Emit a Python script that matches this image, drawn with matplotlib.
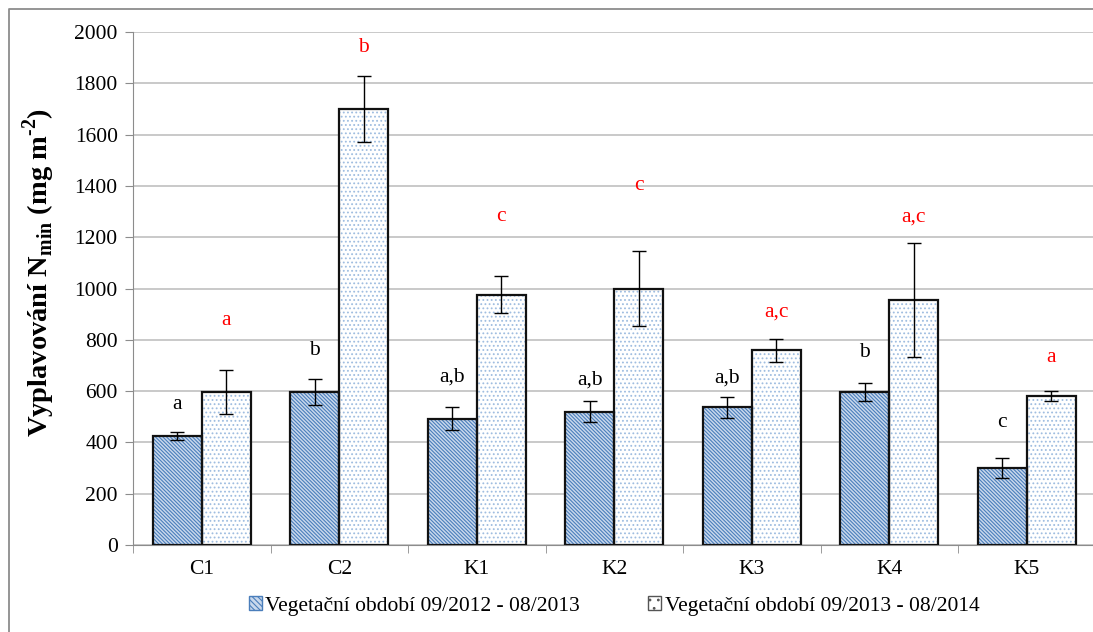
import numpy as np
import matplotlib.pyplot as plt
from matplotlib.patches import Rectangle
from matplotlib.lines import Line2D

plt.rcParams['font.family'] = ['Liberation Serif', 'DejaVu Serif']
plt.rcParams['mathtext.fontset'] = 'custom'
plt.rcParams['mathtext.rm'] = 'Liberation Serif:bold'
plt.rcParams['mathtext.bf'] = 'Liberation Serif:bold'
plt.rcParams['hatch.linewidth'] = 0.8

# lokality
sites = ['C1', 'C2', 'K1', 'K2', 'K3', 'K4', 'K5']

# vyplavovani Nmin (mg m-2) a smerodatne chyby
n_2013 = [425, 597, 493, 520, 537, 597, 300]
err_2013 = [15, 50, 45, 40, 40, 35, 38]
n_2014 = [597, 1700, 975, 1000, 760, 955, 580]
err_2014 = [85, 130, 72, 145, 45, 222, 20]

# statisticke skupiny (pismena nad sloupci)
groups_2013 = ['a', 'b', 'a,b', 'a,b', 'a,b', 'b', 'c']
groups_2014 = ['a', 'b', 'c', 'c', 'a,c', 'a,c', 'a']

season_2013 = 'Vegetační období 09/2012 - 08/2013'
season_2014 = 'Vegetační období 09/2013 - 08/2014'

blue_face = '#c9d8ec'
blue_hatch = '#4a7ebb'
dot_hatch = '#9fbde0'

fig = plt.figure(figsize=(10.93, 6.32), dpi=100)
ax = fig.add_axes([133 / 1093, 87 / 632, 962.5 / 1093, 513 / 632])

# ramecek grafu (vlevo a nahore)
top = 1 - 8.5 / 632
left = 8.5 / 1093
fig.lines.append(Line2D([left, left, 1.01], [-0.01, top, top], transform=fig.transFigure,
                        color='#8c8c8c', linewidth=1.3))

x = np.arange(len(sites))
w = 0.357

# sloupce: nejdriv srafovani, pak cerny obrys
ax.bar(x - w / 2, n_2013, w, color=blue_face, hatch='\\' * 9,
       edgecolor=blue_hatch, linewidth=0, zorder=2)
ax.bar(x + w / 2, n_2014, w, color='white', hatch='....',
       edgecolor=dot_hatch, linewidth=0, zorder=2)
ax.bar(x - w / 2, n_2013, w, fill=False, edgecolor='#111111', linewidth=1.6, zorder=3)
ax.bar(x + w / 2, n_2014, w, fill=False, edgecolor='#111111', linewidth=1.6, zorder=3)

ax.errorbar(x - w / 2, n_2013, yerr=err_2013, fmt='none', ecolor='black',
            elinewidth=1, capsize=5, capthick=1, zorder=4)
ax.errorbar(x + w / 2, n_2014, yerr=err_2014, fmt='none', ecolor='black',
            elinewidth=1, capsize=5, capthick=1, zorder=4)

# odsazeni pismen nad chybovymi useckami
pad_2013 = [106, 113, 117, 84, 75, 120, 138]
pad_2014 = [195, 111, 232, 255, 103, 103, 132]
for i in range(len(sites)):
    ax.text(x[i] - w / 2, n_2013[i] + err_2013[i] + pad_2013[i], groups_2013[i],
            ha='center', va='center', fontsize=15.5, color='black')
    ax.text(x[i] + w / 2, n_2014[i] + err_2014[i] + pad_2014[i], groups_2014[i],
            ha='center', va='center', fontsize=15.5, color='#ff0000')

ax.set_xlim(-0.5, len(sites) - 0.5)
ax.set_ylim(0, 2000)
ax.set_yticks(np.arange(0, 2001, 200))
ax.set_xticks(x)
ax.set_xticklabels(sites)
ax.set_xticks(np.arange(-0.5, len(sites), 1), minor=True)
ax.tick_params(axis='x', which='major', length=0, pad=11, labelsize=15.5)
ax.tick_params(axis='x', which='minor', length=6, color='#8c8c8c', direction='out')
ax.tick_params(axis='y', length=6, color='#8c8c8c', direction='out', labelsize=15.5, pad=5)

ax.grid(axis='y', color='#c0c0c0', linewidth=1.2, zorder=0)
ax.set_axisbelow(True)
for side in ['top', 'right']:
    ax.spines[side].set_visible(False)
ax.spines['left'].set_color('#8c8c8c')
ax.spines['bottom'].set_color('#8c8c8c')

ax.set_ylabel(r'Vyplavování N$_{\mathregular{min}}$ (mg m$^{\text{-2}}$)',
              fontsize=20.5, fontweight='bold')
ax.yaxis.set_label_coords(-0.079, 0.532)

h1 = Rectangle((0, 0), 1, 1, facecolor=blue_face, hatch='\\' * 6, edgecolor=blue_hatch)
h2 = Rectangle((0, 0), 1, 1, facecolor='white', hatch='..', edgecolor='#555555')
fig.legend([h1, h2], [season_2013, season_2014], loc='center',
           bbox_to_anchor=(614 / 1093, 1 - 606 / 632), ncol=2, frameon=False,
           fontsize=15.5, handlelength=0.6, handleheight=0.6, handletextpad=0.15,
           columnspacing=3.2)

fig.savefig('out.png', dpi=100)
